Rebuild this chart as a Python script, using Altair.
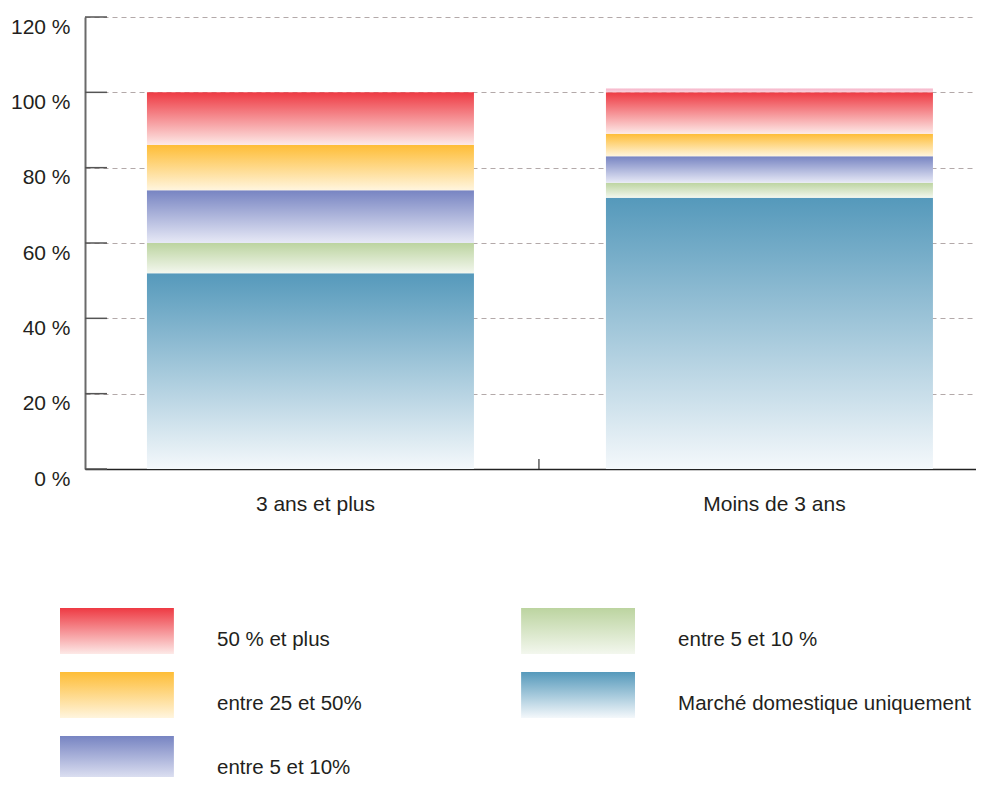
import altair as alt
import pandas as pd

# ---------------- data ----------------
categories = ["3 ans et plus", "Moins de 3 ans"]
series = [
    "Marché domestique uniquement",
    "entre 5 et 10 %",
    "entre 5 et 10%",
    "entre 25 et 50%",
    "50 % et plus",
    "autre",
]
v_domestique = [52, 72]
v_5_10_vert = [8, 4]
v_5_10_violet = [14, 7]
v_25_50 = [12, 6]
v_50_plus = [14, 11]
v_autre = [0, 1]
values = [v_domestique, v_5_10_vert, v_5_10_violet, v_25_50, v_50_plus, v_autre]

y_ticks = [0, 20, 40, 60, 80, 100, 120]

top_colors = ["#5599BB", "#BCD4A0", "#7784C2", "#FEBD36", "#EE3A43", "#F6B6CA"]
bottom_colors = ["#F4F8FB", "#F3F7EE", "#E7E9F6", "#FFF5DE", "#FDE9E7", "#F9D2DE"]

legend_series = ["50 % et plus", "entre 25 et 50%", "entre 5 et 10%",
                 "entre 5 et 10 %", "Marché domestique uniquement"]
legend_col = [0, 0, 0, 1, 1]
legend_row = [0, 1, 2, 0, 1]

FONT = "Liberation Sans"
TXT = "#231F20"
FS = 21
FS_LEG = 20.5
W, H = 891, 452
SVG_H = 769

rows = []
for i, s in enumerate(series):
    for j, c in enumerate(categories):
        rows.append({"cat": c, "series": s, "value": values[i][j], "order": i})
df = pd.DataFrame(rows)
tick_df = pd.DataFrame({"t": y_ticks})
cat_df = pd.DataFrame({"cat": categories})
leg_df = pd.DataFrame({"series": legend_series, "col": legend_col, "row": legend_row})


def grad(top, bottom):
    return alt.Gradient(
        gradient="linear", x1=0, x2=0, y1=0, y2=1,
        stops=[alt.GradientStop(color=top, offset=0),
               alt.GradientStop(color=bottom, offset=1)],
    )


x_scale = alt.Scale(domain=categories, paddingInner=0.2876, paddingOuter=0.1144, align=0.59)
y_scale = alt.Scale(domain=[0, 120], nice=False, zero=True)

x_axis = alt.Axis(title=None, labelFontSize=FS, labelFont=FONT, labelColor=TXT,
                  labelAngle=0, labelPadding=24, labelOffset=5, ticks=False,
                  domainColor="#222222", domainWidth=1.5, grid=False)
y_axis = alt.Axis(title=None, values=y_ticks, labelExpr="datum.value + ' %'",
                  labelFontSize=FS, labelFont=FONT, labelColor=TXT, labelPadding=15,
                  labelBaseline="top", labelOffset=-1, ticks=False,
                  domainColor="#6A6A6A", domainWidth=2, grid=True,
                  gridDash=[5, 4], gridColor="#B3A9A9", gridWidth=1.2)

base = alt.Chart(df).transform_stack(
    stack="value", groupby=["cat"], as_=["v0", "v1"],
    sort=[alt.SortField("order", order="ascending")],
)

bar_layers = []
for i, s in enumerate(series):
    bar_layers.append(
        base.transform_filter(alt.datum.series == s)
        .mark_bar(fill=grad(top_colors[i], bottom_colors[i]), strokeWidth=0)
        .encode(
            x=alt.X("cat:N", scale=x_scale, axis=x_axis, sort=categories),
            y=alt.Y("v0:Q", scale=y_scale, axis=y_axis),
            y2="v1:Q",
        )
    )

# inward ticks of the value axis
ytick_rules = alt.Chart(tick_df).mark_rule(color="#555555", strokeWidth=1.5).encode(
    y=alt.Y("t:Q", scale=y_scale, axis=y_axis),
    x=alt.value(0),
    x2=alt.value(22),
)

# inward tick between the two categories
xtick_rule = alt.Chart(cat_df).transform_filter(alt.datum.cat == categories[0]).mark_rule(
    color="#333333", strokeWidth=1.2, xOffset=65
).encode(
    x=alt.X("cat:N", scale=x_scale, axis=x_axis, sort=categories, bandPosition=1),
    y=alt.value(H - 10),
    y2=alt.value(H),
)

main = alt.layer(*bar_layers, ytick_rules, xtick_rule)

x_leg = alt.Scale(domain=[0, 1], range=[-25, 550], paddingInner=0.753, paddingOuter=0)
y_leg = alt.Scale(domain=[0, 1, 2], range=[591, 765], paddingInner=0.28125, paddingOuter=0)

leg_layers = []
for k, s in enumerate(legend_series):
    i = series.index(s)
    leg_layers.append(
        alt.Chart(leg_df).transform_filter(alt.datum.series == s)
        .mark_rect(fill=grad(top_colors[i], bottom_colors[i]), strokeWidth=0)
        .encode(x=alt.X("col:O", scale=x_leg, axis=None),
                y=alt.Y("row:O", scale=y_leg, axis=None))
    )
leg_text = alt.Chart(leg_df).mark_text(
    align="left", baseline="middle", dx=157, dy=9, fontSize=FS_LEG, font=FONT, color=TXT
).encode(
    x=alt.X("col:O", scale=x_leg, axis=None, bandPosition=0),
    y=alt.Y("row:O", scale=y_leg, axis=None),
    text="series:N",
)
legend = alt.layer(*leg_layers, leg_text)

chart = alt.layer(main, legend).resolve_scale(x="independent", y="independent").properties(
    width=W, height=H,
    autosize=alt.AutoSizeParams(type="none"),
    padding={"left": 77, "top": 9, "right": 0, "bottom": SVG_H - 9 - H},
    background="white",
).configure_view(stroke=None)

chart.save("out.html", embed_options={"renderer": "svg", "actions": False})
